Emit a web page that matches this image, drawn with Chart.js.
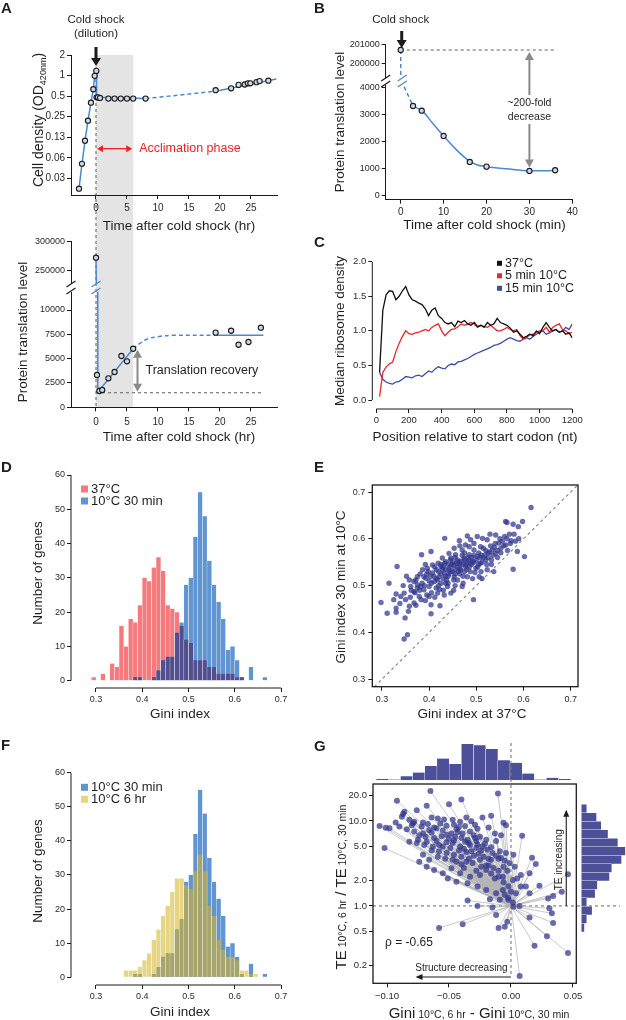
<!DOCTYPE html>
<html>
<head>
<meta charset="utf-8">
<title>Cold shock translation figure</title>
<script src="https://cdn.jsdelivr.net/npm/chart.js@4.4.1/dist/chart.umd.min.js"></script>
<style>
  html, body { margin: 0; padding: 0; background: #fff; }
  #stage { position: relative; width: 626px; height: 1020px; overflow: hidden; background: #fff; }
  #stage canvas { position: absolute; left: 0; top: 0; }
</style>
</head>
<body>
<div id="stage"></div>
<script>
// ---- A: cell density after the shift (hr) ----
const odHr  = [-2.74, -2.26, -1.77, -1.29, -0.81, -0.43, -0.21, 0.05, 0.1, 0.3, 0.65, 2, 3, 4, 5, 6, 8, 19.3, 21.8, 23, 24, 24.5, 24.9, 25.9, 26.4, 27.8];
const odVal = [0.022, 0.051, 0.111, 0.218, 0.40, 0.63, 0.99, 1.17, 0.48, 0.48, 0.47, 0.46, 0.46, 0.46, 0.46, 0.46, 0.46, 0.61, 0.65, 0.73, 0.74, 0.77, 0.77, 0.80, 0.83, 0.84];
const odFitHr  = [-2.74, -2.26, -1.77, -1.29, -0.81, -0.43, -0.21, 0.05, 0.1, 8];
const odFitVal = [0.022, 0.051, 0.111, 0.218, 0.40, 0.63, 0.99, 1.17, 0.48, 0.46];
const odDashHr = [8, 19.3], odDashVal = [0.46, 0.59];
const odTrendHr = [19.3, 29.1], odTrendVal = [0.59, 0.89];
const odTicks  = [0.03125, 0.0625, 0.125, 0.25, 0.5, 1, 2];
const odLabels = ['0.03', '0.06', '0.13', '0.25', '0.5', '1', '2'];
const hrTicks  = [0, 5, 10, 15, 20, 25];

// ---- A: protein translation level (hr) ----
const tlHr  = [0, 0.16, 0.54, 1.0, 2.0, 3.0, 4.1, 5.0, 6.0, 19.3, 21.8, 23.0, 24.6, 26.6];
const tlVal = [272400, 3320, 1675, 1780, 2980, 3630, 5270, 4730, 6020, 7670, 7870, 6430, 6710, 8180];
const tlFitHr  = [0, 0.3, 6];
const tlFitVal = [272400, 1550, 6020];
const tlDashHr  = [6, 7.1, 8.2, 10, 12.5, 19];
const tlDashVal = [6020, 6580, 7000, 7260, 7400, 7400];
const tlPlateauHr = [19, 27], tlPlateauVal = [7400, 7400];
const tlBase = 1500;
const tlTicksHigh = [250000, 300000];
const tlTicksLow  = [0, 2500, 5000, 7500, 10000];

// ---- B: translation in the first minutes ----
const bMin = [0, 2.87, 4.9, 10, 16.1, 20, 30, 36];
const bVal = [200700, 3310, 3137, 2203, 1244, 1070, 911, 937];
const bFitMin = [2.87, 5.2, 7.5, 10, 13, 15.8, 17.7, 20, 24.7, 30, 33.9, 36];
const bFitVal = [3310, 3100, 2660, 2200, 1690, 1300, 1140, 1070, 990, 920, 920, 940];
const bDashMin = [0, 0.7, 2.87];
const bDashVal = [200700, 4050, 3310];
const bTicksHigh = [200000, 201000];
const bTicksLow  = [0, 1000, 2000, 3000, 4000];
const minTicks   = [0, 10, 20, 30, 40];

// ---- C: median ribosome density along the CDS ----
const ntPos = [20, 40, 60, 80, 100, 120, 140, 160, 180, 200, 220, 240, 260, 280, 300, 320, 340, 360, 380, 400,
               420, 440, 460, 480, 500, 520, 540, 560, 580, 600, 620, 640, 660, 680, 700, 720, 740, 760, 780, 800,
               820, 840, 860, 880, 900, 920, 940, 960, 980, 1000, 1020, 1040, 1060, 1080, 1100, 1120, 1140, 1160, 1180, 1200];
const rd37 = [0.40, 1.30, 1.52, 1.58, 1.57, 1.45, 1.50, 1.58, 1.64, 1.52, 1.45, 1.43, 1.40, 1.38, 1.32, 1.22, 1.30, 1.33, 1.22, 1.18,
              1.12, 1.10, 1.12, 1.06, 1.14, 1.12, 1.15, 1.10, 1.08, 1.12, 1.06, 1.08, 1.05, 1.12, 1.08, 1.10, 1.18, 1.12, 1.10, 1.08,
              1.04, 0.98, 1.00, 0.95, 0.90, 0.92, 0.95, 0.93, 1.00, 0.96, 1.05, 1.12, 1.05, 1.00, 1.02, 0.98, 1.00, 0.95, 0.97, 0.90];
const rd5  = [0.05, 0.40, 0.48, 0.52, 0.55, 0.70, 0.82, 0.92, 1.00, 0.96, 0.95, 0.97, 0.98, 1.00, 1.02, 1.00, 1.05, 1.08, 1.10, 1.00,
              0.93, 0.98, 1.02, 1.03, 1.06, 1.10, 1.08, 1.10, 1.12, 1.10, 1.05, 1.08, 1.06, 1.05, 1.08, 1.04, 1.00, 1.00, 1.02, 1.05,
              1.02, 1.00, 1.02, 0.93, 0.88, 0.90, 0.95, 0.95, 0.98, 1.00, 1.00, 1.05, 0.98, 1.05, 1.08, 1.10, 1.02, 1.00, 0.96, 0.98];
const rd15 = [0.40, 0.30, 0.26, 0.24, 0.23, 0.26, 0.27, 0.30, 0.34, 0.33, 0.32, 0.35, 0.36, 0.34, 0.38, 0.42, 0.40, 0.45, 0.48, 0.46,
              0.45, 0.50, 0.52, 0.51, 0.55, 0.56, 0.58, 0.60, 0.63, 0.66, 0.68, 0.70, 0.72, 0.74, 0.76, 0.79, 0.80, 0.82, 0.85, 0.88,
              0.90, 0.88, 0.86, 0.85, 0.88, 0.90, 0.88, 0.92, 0.95, 0.98, 1.00, 0.95, 0.97, 1.00, 1.02, 0.98, 1.00, 1.05, 1.02, 1.10];
const ntTicks = [0, 200, 400, 600, 800, 1000, 1200];
const rdTicks = [0, 0.5, 1, 1.5, 2];

// ---- D / F: Gini index histograms (bin centres, counts) ----
const giniBin = [0.295, 0.305, 0.315, 0.325, 0.335, 0.345, 0.355, 0.365, 0.375, 0.385, 0.395, 0.405, 0.415, 0.425, 0.435, 0.445, 0.455, 0.465, 0.475,
                 0.485, 0.495, 0.505, 0.515, 0.525, 0.535, 0.545, 0.555, 0.565, 0.575, 0.585, 0.595, 0.605, 0.615, 0.625, 0.635, 0.645, 0.655, 0.665];
const gini37  = [1, 0, 2, 0, 5, 4, 16, 10, 18, 17, 22, 30, 29, 33, 36, 32, 22, 21, 20, 16, 12, 11, 6, 6, 6, 4, 4, 2, 2, 2, 2, 1, 1, 0, 0, 0, 0, 0];
const gini30m = [0, 0, 0, 0, 0, 0, 0, 0, 0, 1, 1, 0, 0, 1, 3, 6, 7, 7, 14, 17, 28, 30, 42, 55, 48, 35, 28, 23, 18, 9, 10, 6, 1, 0, 4, 0, 0, 1];
const gini6h  = [0, 0, 0, 0, 0, 0, 0, 2, 2, 2, 3, 5, 7, 11, 14, 18, 21, 25, 29, 29, 27, 26, 31, 36, 31, 21, 18, 11, 8, 6, 6, 5, 2, 2, 1, 1, 0, 0];
const giniTicks = [0.3, 0.4, 0.5, 0.6, 0.7];
const countTicks = [0, 10, 20, 30, 40, 50, 60];

// ---- E: Gini at 37°C vs 30 min at 10°C ----
const eGini = [[0.616,0.667],[0.298,0.464],[0.311,0.441],[0.315,0.505],[0.332,0.541],[0.330,0.452],[0.330,0.443],[0.349,0.431],[0.347,0.386],[0.354,0.395],
  [0.330,0.482],[0.340,0.477],[0.384,0.566],[0.404,0.573],[0.433,0.601],[0.404,0.440],[0.423,0.457],[0.464,0.596],[0.481,0.606],[0.494,0.470],
  [0.537,0.530],[0.562,0.637],[0.565,0.635],[0.578,0.631],[0.589,0.626],[0.598,0.637],[0.574,0.596],[0.578,0.535],[0.587,0.573],[0.602,0.562],
  [0.529,0.610],[0.541,0.608],[0.513,0.601],[0.523,0.598],[0.548,0.591],[0.552,0.580],[0.562,0.587],[0.534,0.576],[0.541,0.569],[0.509,0.548],
  [0.520,0.555],[0.502,0.562],[0.495,0.576],[0.485,0.583],[0.453,0.580],[0.442,0.569],[0.428,0.559],[0.419,0.548],[0.407,0.544],[0.396,0.537],
  [0.386,0.534],[0.375,0.519],[0.368,0.509],[0.361,0.498],[0.368,0.487],[0.379,0.477],[0.389,0.491],[0.400,0.498],[0.411,0.509],[0.421,0.519],
  [0.432,0.527],[0.442,0.534],[0.453,0.544],[0.463,0.551],[0.474,0.559],[0.485,0.566],[0.467,0.534],[0.477,0.541],[0.488,0.548],[0.499,0.537],
  [0.481,0.519],[0.460,0.512],[0.439,0.498],[0.418,0.484],[0.400,0.477],[0.383,0.470],[0.404,0.459],[0.446,0.484],[0.470,0.498],[0.506,0.519],
  [0.523,0.534],[0.368,0.463],[0.358,0.456],[0.347,0.484],[0.358,0.512],[0.375,0.502],[0.393,0.516],[0.407,0.527],[0.425,0.541],[0.435,0.551],
  [0.446,0.559],[0.456,0.566],[0.470,0.576],[0.509,0.583],[0.488,0.598],[0.502,0.605],[0.477,0.587],[0.425,0.505],[0.453,0.519],[0.415,0.534],
  [0.389,0.519],[0.382,0.498],[0.430,0.540],[0.440,0.545],[0.450,0.530],[0.460,0.555],[0.470,0.545],[0.480,0.550],[0.490,0.560],[0.410,0.520],
  [0.420,0.530],[0.430,0.515],[0.440,0.520],[0.450,0.550],[0.460,0.540],[0.470,0.565],[0.480,0.535],[0.490,0.545],[0.500,0.555],[0.510,0.565],
  [0.520,0.575],[0.530,0.585],[0.540,0.590],[0.550,0.600],[0.560,0.605],[0.570,0.610],[0.510,0.530],[0.400,0.510],[0.390,0.500],[0.380,0.490],
  [0.370,0.485],[0.360,0.475],[0.350,0.470],[0.420,0.500],[0.430,0.490],[0.440,0.505],[0.455,0.500],[0.465,0.525],[0.475,0.530],[0.485,0.540],
  [0.495,0.550],[0.505,0.570],[0.515,0.580],[0.525,0.560],[0.535,0.565],[0.545,0.575],[0.555,0.595],[0.565,0.600],[0.580,0.610],[0.590,0.600],
  [0.405,0.505],[0.415,0.515],[0.425,0.525],[0.435,0.535],[0.445,0.540],[0.455,0.535],[0.465,0.545],[0.475,0.555],[0.485,0.555],[0.495,0.565],
  [0.505,0.545],[0.515,0.560],[0.525,0.570],[0.435,0.520],[0.445,0.530],[0.455,0.525],[0.465,0.535],[0.395,0.525],[0.385,0.505],[0.375,0.495],
  [0.415,0.495],[0.405,0.485],[0.395,0.480],[0.435,0.505],[0.425,0.545],[0.445,0.555],[0.455,0.560],[0.475,0.570],[0.465,0.585],[0.495,0.590],
  [0.362,0.490],[0.372,0.512],[0.381,0.525],[0.392,0.545],[0.398,0.530],[0.403,0.520],[0.412,0.540],[0.418,0.512],[0.422,0.492],[0.428,0.535],
  [0.433,0.548],[0.437,0.512],[0.442,0.525],[0.448,0.545],[0.452,0.512],[0.458,0.548],[0.462,0.530],[0.468,0.552],[0.472,0.520],[0.478,0.545],
  [0.482,0.560],[0.487,0.530],[0.492,0.552],[0.497,0.528],[0.503,0.540],[0.508,0.560],[0.512,0.550],[0.518,0.565],[0.522,0.545],[0.528,0.572],
  [0.532,0.555],[0.538,0.582],[0.545,0.560],[0.552,0.570],[0.558,0.585],[0.566,0.575],[0.572,0.590],[0.583,0.595],[0.345,0.500],[0.352,0.520],
  [0.338,0.462],[0.325,0.470],[0.356,0.445],[0.372,0.458],[0.392,0.468],[0.412,0.475],[0.432,0.480],[0.452,0.490],[0.472,0.505],[0.492,0.515],
  [0.512,0.515],[0.532,0.545]];
const eTicks = [0.3, 0.4, 0.5, 0.6, 0.7];

// ---- G: change in Gini vs change in TE ----
const gPairs = [[-0.065,22.5],[-0.092,17.3],[-0.0105,21.0],[-0.040,17.9],[-0.050,15.7],[-0.068,15.1],[-0.076,13.4],[-0.086,12.8],[-0.087,12.1],[-0.106,8.7],
  [-0.101,8.3],[-0.102,4.8],[-0.016,11.5],[-0.006,9.5],[-0.004,8.9],[0.009,6.7],[-0.074,3.3],[-0.051,2.1],[-0.058,0.55],[-0.039,0.61],
  [0.017,3.7],[0.023,1.73],[0.041,1.47],[0.046,2.36],[0.046,0.28],[0.029,0.44],[0.019,0.34],[0.007,0.15],[0.031,0.94],[0.033,0.82],
  [0.034,0.63],[0.015,0.73],[0.007,1.0],[-0.010,0.55],[-0.005,0.57],[-0.012,0.78],[-0.035,1.16],[-0.027,1.0],[-0.015,0.96],[-0.003,0.65],
  [0.002,0.98],[0.030,1.22],[0.034,1.31],[0.015,1.41],[0.012,1.69],[0.015,2.42],[0.020,3.12],[0.008,1.69],[0.005,2.11],[-0.002,1.18],
  [-0.009,1.18],[-0.017,1.2],
  [-0.088,11.2],[-0.082,10.3],[-0.079,9.4],[-0.071,9.6],[-0.064,11.0],[-0.059,10.7],[-0.054,10.4],[-0.047,10.3],[-0.041,9.8],[-0.036,11.0],[-0.029,9.0],[-0.023,11.0],
  [-0.098,8.2],[-0.090,8.6],[-0.084,8.0],[-0.078,7.5],[-0.071,7.1],[-0.066,7.8],[-0.060,8.2],[-0.055,7.7],[-0.048,7.1],[-0.044,8.0],[-0.039,7.1],[-0.033,7.5],
  [-0.025,6.5],[-0.020,6.0],[-0.013,7.1],[-0.008,6.8],
  [-0.082,5.7],[-0.076,5.5],[-0.068,5.7],[-0.063,5.0],[-0.058,5.2],[-0.052,5.6],[-0.047,5.5],[-0.041,5.0],[-0.037,5.7],[-0.033,5.2],[-0.028,4.8],[-0.023,5.0],
  [-0.019,4.6],[-0.015,4.2],[-0.009,4.4],[-0.004,4.2],[0.002,4.0],
  [-0.071,4.0],[-0.066,3.5],[-0.059,3.8],[-0.053,3.6],[-0.047,3.5],[-0.040,3.8],[-0.036,3.3],[-0.031,3.2],[-0.025,3.5],[-0.020,3.0],[-0.016,3.5],[-0.010,3.6],
  [-0.001,3.2],[0.003,2.9],
  [-0.068,2.9],[-0.062,2.65],[-0.055,2.42],[-0.048,2.77],[-0.041,2.42],[-0.033,2.21],[-0.025,2.31],[-0.020,2.65],[-0.013,2.11],[-0.0065,2.21],[0.0016,2.02],[0.008,2.31],
  [-0.044,1.93],[-0.035,1.85],[-0.027,1.69],[-0.020,1.54],[-0.012,1.41],[-0.0065,1.54],[0.0,1.47],[0.004,1.41],
  [-0.0024,1.25],[-0.005,1.35],[0.0016,1.1],
  [-0.050,6.2],[-0.045,6.5],[-0.035,6.0],[-0.030,6.8],[-0.028,5.8],[-0.042,4.5],[-0.036,4.3],[-0.026,4.1],[-0.030,3.9],[-0.022,3.8],[-0.018,3.0],
  [-0.014,2.8],[-0.010,2.6],[-0.006,2.9],[-0.040,3.1],[-0.058,4.4],[-0.062,6.3],[-0.056,6.6],[-0.070,5.2],[-0.074,6.8],[-0.080,8.9],[-0.093,9.6],
  [-0.075,6.0],[-0.069,6.5],[-0.064,7.3],[-0.060,5.8],[-0.055,5.0],[-0.052,6.9],[-0.049,4.8],[-0.046,5.9],[-0.043,7.4],[-0.040,6.3],[-0.038,4.7],
  [-0.034,5.5],[-0.032,4.4],[-0.029,6.3],[-0.027,5.3],[-0.024,4.5],[-0.021,5.4],[-0.018,3.6],[-0.016,4.9],[-0.012,3.9],[-0.008,3.7],[-0.005,3.4],
  [-0.003,2.6],[-0.044,3.3],[-0.038,2.8],[-0.034,3.6],[-0.028,2.6],[-0.024,2.9],[-0.016,2.4],[-0.010,2.2],[-0.006,1.9],[-0.002,1.7],[-0.052,4.2],
  [-0.046,4.0],[-0.064,4.5],[-0.078,9.8],[-0.072,8.6],[-0.067,9.2],[-0.062,8.4],[-0.057,9.3],[-0.052,8.8],[-0.046,9.0],[-0.042,8.5],[-0.037,8.7],
  [-0.032,9.9],[-0.027,8.1],[-0.018,8.4],[-0.012,5.8]];
const gTopBin   = [-0.1038, -0.0940, -0.0842, -0.0744, -0.0646, -0.0548, -0.0449, -0.0351, -0.0253, -0.0155, -0.0057, 0.0041, 0.0139, 0.0237, 0.0335, 0.0433];
const gTopCount = [2, 1, 7, 14, 26, 40, 30, 67, 65, 58, 37, 32, 12, 1, 4, 2];
const gSideBin   = [1.145, 1.045, 0.945, 0.845, 0.745, 0.645, 0.545, 0.445, 0.345, 0.245, 0.145, 0.045, -0.055, -0.155, -0.255]; // log10 TE ratio
const gSideCount = [7, 20, 26, 35, 48, 58, 53, 40, 37, 21, 18, 7, 14, 7, 4];
const gXMin = -0.1113, gXMax = 0.0527, gTeMin = 0.123, gTeMax = 27.2;
const gXTicks = [-0.1, -0.05, 0, 0.05];
const gXLabels = ['\u22120.10', '\u22120.05', '0.00', '0.05'];
const gTeTicks = [0.2, 0.5, 1, 2, 5, 10, 20];
const gTeLabels = ['0.2', '0.5', '1.0', '2.0', '5.0', '10.0', '20.0'];

// ---- styling ----
const FONT = "'Liberation Sans', Arial, Helvetica, sans-serif";
const INK = '#1a1a1a', BLUE = '#4a89cf', SHADE = '#e4e4e4', RED = '#ec2227', GREY = '#8a8a8a';
const C37 = '#111111', C5 = '#e8262b', C15 = '#3a4fa0';
const H_RED = '#f47a7e', H_BLUE = '#5f95d0', H_PURPLE = '#524f8f', H_YELLOW = '#e5d585', H_OLIVE = '#a6a56b';
const DOT = 'rgba(48, 52, 140, 0.72)', G_BAR = '#4c5098', SPOKE = 'rgba(180, 180, 180, 0.9)';
const RESERVE_Y = 50, RESERVE_X = 26;   // room kept for tick labels

Chart.defaults.font.family = FONT;
Chart.defaults.color = '#2a2a2a';
Chart.defaults.animation = false;
Chart.defaults.responsive = false;
Chart.defaults.devicePixelRatio = 1;
Chart.defaults.events = [];
Chart.defaults.plugins.legend.display = false;
Chart.defaults.plugins.tooltip.enabled = false;

const W = 626, H = 1020;
const stage = document.getElementById('stage');
const charts = {};

const pts = (xs, ys) => xs.map((x, i) => ({ x, y: ys[i] }));
const pairs = list => list.map(p => ({ x: p[0], y: p[1] }));

function axis(o) {
  return {
    type: o.type || 'linear', display: !o.hide, position: o.pos || 'bottom',
    min: o.min, max: o.max, offset: false,
    afterFit: s => {
      if (s.isHorizontal()) s.height = o.hide ? 0 : RESERVE_X;
      else s.width = o.hide ? 0 : RESERVE_Y;
    },
    afterBuildTicks: s => { s.ticks = (o.ticks || [o.min, o.max]).map(v => ({ value: v })); },
    grid: { display: !!o.ticks && !o.hide, drawOnChartArea: false, offset: false, tickLength: o.tl || 4, tickWidth: 1, tickColor: INK },
    border: { display: !!o.border, color: INK, width: 1 },
    ticks: { display: !!o.labels, autoSkip: false, maxRotation: 0, padding: o.pad ?? 2, color: '#2a2a2a',
             font: { size: o.fs || 9.5 }, callback: (v, i) => (o.labels ? o.labels[i] : '') }
  };
}

const dots = data => ({ data, showLine: false, pointRadius: 2.6, pointBackgroundColor: '#cfd9e6',
  pointBorderColor: INK, pointBorderWidth: 1.1, order: 0 });
const curve = (data, color, o = {}) => ({ data, showLine: true, pointRadius: 0, borderColor: color,
  borderWidth: o.w || 1.5, borderDash: o.dash || [], tension: o.t || 0,
  cubicInterpolationMode: o.mono ? 'monotone' : 'default', spanGaps: false, order: o.order || 1 });
const bars = (data, color, order, horiz) => ({ data, backgroundColor: color, borderColor: '#fff',
  borderWidth: horiz ? { top: 0.5, bottom: 0.5, left: 0, right: 0 } : { left: 0.45, right: 0.45, top: 0, bottom: 0 },
  borderSkipped: false, barPercentage: 1, categoryPercentage: 1, grouped: false, order });

function make(id, area, cfg, under, over) {
  const cv = document.createElement('canvas');
  cv.width = W; cv.height = H;
  stage.appendChild(cv);
  cfg.options = cfg.options || {};
  let padL = area[0], padB = H - area[3];
  Object.values(cfg.options.scales || {}).forEach(s => {
    if (!s.display) return;
    if (s.position === 'left') padL -= RESERVE_Y;
    if (s.position === 'bottom') padB -= RESERVE_X;
  });
  cfg.options.layout = { padding: { left: padL, top: area[1], right: W - area[2], bottom: padB } };
  const XY = c => [v => c.scales.x.getPixelForValue(v), v => c.scales.y.getPixelForValue(v)];
  cfg.plugins = [{
    id: id + 'Deco',
    beforeDraw: c => { if (under) under(c, c.ctx, ...XY(c)); },
    afterDraw: c => { if (over) over(c, c.ctx, ...XY(c)); }
  }];
  charts[id] = new Chart(cv, cfg);
  return charts[id];
}

// ---- drawing helpers ----
function text(ctx, s, x, y, size, o = {}) {
  ctx.save();
  ctx.font = (o.bold ? 'bold ' : '') + size + 'px ' + FONT;
  ctx.fillStyle = o.color || '#1f1f1f';
  ctx.textAlign = o.align || 'center';
  ctx.textBaseline = o.base || 'middle';
  ctx.translate(x, y);
  if (o.rot) ctx.rotate(o.rot);
  ctx.fillText(s, 0, 0);
  ctx.restore();
}
function rich(ctx, parts, x, y, rot) {
  ctx.save();
  ctx.translate(x, y);
  if (rot) ctx.rotate(rot);
  ctx.fillStyle = '#1f1f1f'; ctx.textAlign = 'left'; ctx.textBaseline = 'alphabetic';
  let w = 0;
  parts.forEach(p => { ctx.font = p[1] + 'px ' + FONT; w += ctx.measureText(p[0]).width; });
  let cx = -w / 2;
  parts.forEach(p => { ctx.font = p[1] + 'px ' + FONT; ctx.fillText(p[0], cx, 5 + (p[2] || 0)); cx += ctx.measureText(p[0]).width; });
  ctx.restore();
}
function line(ctx, p, color, width, dash) {
  ctx.save();
  ctx.strokeStyle = color; ctx.lineWidth = width; ctx.setLineDash(dash || []);
  ctx.beginPath();
  p.forEach((q, i) => (i ? ctx.lineTo(q[0], q[1]) : ctx.moveTo(q[0], q[1])));
  ctx.stroke();
  ctx.restore();
}
function head(ctx, x, y, dir, len, half, color) {
  ctx.save();
  ctx.fillStyle = color; ctx.translate(x, y); ctx.rotate(dir);
  ctx.beginPath(); ctx.moveTo(0, 0); ctx.lineTo(-len, -half); ctx.lineTo(-len, half); ctx.closePath(); ctx.fill();
  ctx.restore();
}
const brk = (ctx, x, y, color) => line(ctx, [[x - 4.5, y + 3], [x + 4.5, y - 3]], color, 1.2);
function legend(ctx, items, x, y0, dy, size, sq) {
  items.forEach((it, i) => {
    const y = y0 + i * dy;
    ctx.fillStyle = it[1];
    ctx.fillRect(x, y - sq / 2, sq, sq);
    text(ctx, it[0], x + sq + 3, y, size, { align: 'left' });
  });
}
const UP = -Math.PI / 2, DOWN = Math.PI / 2;

// ===== A (top): cell density =====
make('a1', [71, 55, 277, 195], {
  type: 'scatter',
  data: { datasets: [
    dots(pts(odHr, odVal)),
    curve(pts(odFitHr, odFitVal), BLUE),
    curve(pts(odDashHr, odDashVal), BLUE, { dash: [4, 3] }),
    curve(pts(odTrendHr, odTrendVal), BLUE)
  ] },
  options: { scales: {
    x: axis({ min: -4.03, max: 29.2, ticks: hrTicks, labels: hrTicks.map(String), pos: 'bottom', fs: 10, pad: 3, border: true }),
    y: axis({ type: 'logarithmic', min: 0.0178, max: 2, ticks: odTicks, labels: odLabels, pos: 'left', fs: 10, border: true })
  } }
}, (c, ctx, X) => {
  const bottom = charts.a2l ? charts.a2l.chartArea.bottom : c.chartArea.bottom;
  ctx.fillStyle = SHADE;
  ctx.fillRect(X(0), c.chartArea.top, X(6) - X(0), bottom - c.chartArea.top);
  line(ctx, [[X(0), c.chartArea.top], [X(0), bottom]], '#777', 1.2, [3, 3]);
}, (c, ctx, X, Y) => {
  text(ctx, 'A', 1, 9, 15, { bold: true, align: 'left' });
  text(ctx, 'Cold shock', X(0), 20, 11.5);
  text(ctx, '(dilution)', X(0), 34, 11.5);
  line(ctx, [[X(0), 47], [X(0), 59]], INK, 3);
  head(ctx, X(0), 66, DOWN, 8, 5, INK);
  const ya = Y(0.085);
  line(ctx, [[X(0) + 3, ya], [X(6) - 3, ya]], RED, 1.3);
  head(ctx, X(0) + 1, ya, Math.PI, 6, 3.5, RED);
  head(ctx, X(6) - 1, ya, 0, 6, 3.5, RED);
  text(ctx, 'Acclimation phase', X(6) + 6, ya, 12.5, { align: 'left', color: RED });
  rich(ctx, [['Cell density (OD', 14], ['420nm', 9, 3], [')', 14]], 38, 120, UP);
  text(ctx, 'Time after cold shock (hr)', 179, 226, 13.5);
});

// ===== A (bottom): translation, broken axis =====
make('a2u', [71, 241.7, 277, 283], {
  type: 'scatter',
  data: { datasets: [dots(pts(tlHr, tlVal)), curve(pts(tlFitHr, tlFitVal), BLUE)] },
  options: { scales: {
    x: axis({ min: -4.03, max: 29.2, hide: true }),
    y: axis({ min: 228800, max: 300000, ticks: tlTicksHigh, labels: tlTicksHigh.map(String), pos: 'left', fs: 9, border: true })
  } }
}, null, (c, ctx, X) => {
  brk(ctx, c.chartArea.left, c.chartArea.bottom + 1, INK);
  brk(ctx, X(0), c.chartArea.bottom + 1, BLUE);
});

make('a2l', [71, 292, 277, 407.3], {
  type: 'scatter',
  data: { datasets: [
    dots(pts(tlHr, tlVal)),
    curve(pts(tlFitHr, tlFitVal), BLUE),
    curve(pts(tlDashHr, tlDashVal), BLUE, { dash: [4, 3], t: 0.4 }),
    curve(pts(tlPlateauHr, tlPlateauVal), BLUE)
  ] },
  options: { scales: {
    x: axis({ min: -4.03, max: 29.2, ticks: hrTicks, labels: hrTicks.map(String), pos: 'bottom', fs: 10, pad: 5, border: true }),
    y: axis({ min: 0, max: 11850, ticks: tlTicksLow, labels: tlTicksLow.map(String), pos: 'left', fs: 9, border: true })
  } }
}, (c, ctx, X, Y) => {
  line(ctx, [[X(0), Y(tlBase)], [X(27), Y(tlBase)]], '#777', 1.2, [3, 3]);
}, (c, ctx, X, Y) => {
  brk(ctx, c.chartArea.left, c.chartArea.top - 1, INK);
  brk(ctx, X(0), c.chartArea.top - 1, BLUE);
  const xa = X(6.7), y1 = Y(6020) + 1, y2 = Y(tlBase) - 1;
  line(ctx, [[xa, y1 + 6], [xa, y2 - 6]], GREY, 2);
  head(ctx, xa, y1, UP, 8, 4.5, GREY);
  head(ctx, xa, y2, DOWN, 8, 4.5, GREY);
  text(ctx, 'Translation recovery', xa + 8, (y1 + y2) / 2, 12.5, { align: 'left' });
  text(ctx, 'Protein translation level', 23, 332, 13.5, { rot: UP });
  text(ctx, 'Time after cold shock (hr)', 179, 437, 13.5);
});

// ===== B: broken axis =====
make('bu', [385.7, 44.3, 572.3, 77], {
  type: 'scatter',
  data: { datasets: [dots(pts(bMin, bVal)), curve(pts(bDashMin, bDashVal), BLUE, { dash: [4, 3] })] },
  options: { scales: {
    x: axis({ min: -3.5, max: 40, hide: true }),
    y: axis({ min: 199280, max: 201000, ticks: bTicksHigh, labels: bTicksHigh.map(String), pos: 'left', fs: 9, border: true })
  } }
}, (c, ctx, X, Y) => {
  line(ctx, [[X(0), Y(bVal[0])], [X(36), Y(bVal[0])]], '#777', 1.2, [3, 3]);
}, (c, ctx, X) => {
  text(ctx, 'B', 314, 9, 15, { bold: true, align: 'left' });
  text(ctx, 'Cold shock', X(0), 20, 11.5);
  line(ctx, [[X(0) + 1, 31], [X(0) + 1, 41]], INK, 3);
  head(ctx, X(0) + 1, 48, DOWN, 8, 5, INK);
  brk(ctx, c.chartArea.left, c.chartArea.bottom + 1, INK);
  brk(ctx, X(0.35), c.chartArea.bottom + 1, BLUE);
  text(ctx, 'Protein translation level', 340, 122, 13.5, { rot: UP });
});

make('bl', [385.7, 85, 572.3, 199.7], {
  type: 'scatter',
  data: { datasets: [
    dots(pts(bMin, bVal)),
    curve(pts(bFitMin, bFitVal), BLUE, { mono: true }),
    curve(pts(bDashMin, bDashVal), BLUE, { dash: [4, 3] })
  ] },
  options: { scales: {
    x: axis({ min: -3.5, max: 40, ticks: minTicks, labels: minTicks.map(String), pos: 'bottom', fs: 10, pad: 3, border: true }),
    y: axis({ min: -150, max: 4085, ticks: bTicksLow, labels: bTicksLow.map(String), pos: 'left', fs: 9, border: true })
  } }
}, null, (c, ctx, X, Y) => {
  brk(ctx, c.chartArea.left, c.chartArea.top - 1, INK);
  brk(ctx, X(0.35), c.chartArea.top - 1, BLUE);
  const xa = X(30), y1 = charts.bu.scales.y.getPixelForValue(bVal[0]) + 2, y2 = Y(bVal[6]) - 3.5;
  line(ctx, [[xa, y1 + 6], [xa, y2 - 6]], GREY, 2);
  head(ctx, xa, y1, UP, 8, 4.5, GREY);
  head(ctx, xa, y2, DOWN, 8, 4.5, GREY);
  ctx.fillStyle = '#fff';
  ctx.fillRect(xa - 28, 95, 56, 29);
  text(ctx, '~200-fold', xa, 103, 10.5);
  text(ctx, 'decrease', xa, 117, 10.5);
  text(ctx, 'Time after cold shock (min)', 484.5, 225, 13.5);
});

// ===== C: ribosome density profiles =====
make('c', [372.3, 261.7, 572.3, 409], {
  type: 'scatter',
  data: { datasets: [
    curve(pts(ntPos, rd37), C37, { w: 1.3, order: 1 }),
    curve(pts(ntPos, rd5), C5, { w: 1.3, order: 2 }),
    curve(pts(ntPos, rd15), C15, { w: 1.3, order: 3 })
  ] },
  options: { scales: {
    x: axis({ min: -24.5, max: 1200, ticks: ntTicks, labels: ntTicks.map(String), pos: 'bottom', fs: 9.5, pad: 2 }),
    y: axis({ min: -0.13, max: 2, ticks: rdTicks, labels: rdTicks.map(v => v.toFixed(1)), pos: 'left', fs: 9.5 })
  } }
}, null, (c, ctx, X, Y) => {
  line(ctx, [[c.chartArea.left, Y(0)], [c.chartArea.left, Y(2)]], INK, 1);
  line(ctx, [[X(0), c.chartArea.bottom], [X(1200), c.chartArea.bottom]], INK, 1);
  legend(ctx, [['37°C', C37], ['5 min 10°C', C5], ['15 min 10°C', C15]], 497, 263.3, 12.5, 12.5, 5);
  text(ctx, 'C', 314, 243, 15, { bold: true, align: 'left' });
  text(ctx, 'Median ribosome density', 340, 331, 13.5, { rot: UP });
  text(ctx, 'Position relative to start codon (nt)', 475, 437, 13.5);
});

// ===== D: Gini histograms 37°C vs 10°C 30 min =====
const over37 = gini37.map((v, i) => Math.min(v, gini30m[i]));
make('d', [71, 475, 282, 688], {
  type: 'bar',
  data: { datasets: [
    bars(pts(giniBin, over37), H_PURPLE, 0),
    bars(pts(giniBin, gini30m), H_BLUE, 1),
    bars(pts(giniBin, gini37), H_RED, 2)
  ] },
  options: { scales: {
    x: axis({ min: 0.246, max: 0.702, ticks: giniTicks, labels: giniTicks.map(v => v.toFixed(1)), pos: 'bottom', fs: 9, pad: 2 }),
    y: axis({ min: -2.13, max: 60, ticks: countTicks, labels: countTicks.map(String), pos: 'left', fs: 9 })
  } }
}, null, (c, ctx, X, Y) => {
  line(ctx, [[c.chartArea.left, Y(0)], [c.chartArea.left, Y(60)]], INK, 1);
  line(ctx, [[X(0.3), c.chartArea.bottom], [X(0.7), c.chartArea.bottom]], INK, 1);
  legend(ctx, [['37°C', H_RED], ['10°C 30 min', H_BLUE]], 81, 489, 12, 13, 7);
  text(ctx, 'D', 1, 468, 15, { bold: true, align: 'left' });
  text(ctx, 'Number of genes', 38, 573, 13.5, { rot: UP });
  text(ctx, 'Gini index', 180, 714, 13.5);
});

// ===== E: Gini scatter =====
make('e', [372.3, 485, 578, 686.7], {
  type: 'scatter',
  data: { datasets: [{ data: pairs(eGini), showLine: false, pointRadius: 2.7, pointBackgroundColor: DOT, pointBorderWidth: 0 }] },
  options: { scales: {
    x: axis({ min: 0.2795, max: 0.7155, ticks: eTicks, labels: eTicks.map(v => v.toFixed(1)), pos: 'bottom', fs: 9, pad: 3 }),
    y: axis({ min: 0.284, max: 0.715, ticks: eTicks, labels: eTicks.map(v => v.toFixed(1)), pos: 'left', fs: 9, pad: 3 })
  } }
}, (c, ctx, X, Y) => {
  const lo = Math.max(c.scales.x.min, c.scales.y.min), hi = Math.min(c.scales.x.max, c.scales.y.max);
  line(ctx, [[X(lo), Y(lo)], [X(hi), Y(hi)]], '#8a8a8a', 1.2, [3, 3]);
}, (c, ctx) => {
  const a = c.chartArea;
  ctx.save(); ctx.strokeStyle = INK; ctx.lineWidth = 1.3;
  ctx.strokeRect(a.left, a.top, a.right - a.left, a.bottom - a.top); ctx.restore();
  text(ctx, 'E', 314, 468, 15, { bold: true, align: 'left' });
  text(ctx, 'Gini index 30 min at 10°C', 341, 587, 13.5, { rot: UP });
  text(ctx, 'Gini index at 37°C', 472, 714, 13.5);
});

// ===== F: Gini histograms 10°C 30 min vs 6 hr =====
const over6h = gini6h.map((v, i) => Math.min(v, gini30m[i]));
make('f', [71, 772.7, 282, 985], {
  type: 'bar',
  data: { datasets: [
    bars(pts(giniBin, over6h), H_OLIVE, 0),
    bars(pts(giniBin, gini30m), H_BLUE, 1),
    bars(pts(giniBin, gini6h), H_YELLOW, 2)
  ] },
  options: { scales: {
    x: axis({ min: 0.246, max: 0.702, ticks: giniTicks, labels: giniTicks.map(v => v.toFixed(1)), pos: 'bottom', fs: 9, pad: 2 }),
    y: axis({ min: -2.26, max: 60, ticks: countTicks, labels: countTicks.map(String), pos: 'left', fs: 9 })
  } }
}, null, (c, ctx, X, Y) => {
  line(ctx, [[c.chartArea.left, Y(0)], [c.chartArea.left, Y(60)]], INK, 1);
  line(ctx, [[X(0.3), c.chartArea.bottom], [X(0.7), c.chartArea.bottom]], INK, 1);
  legend(ctx, [['10°C 30 min', H_BLUE], ['10°C 6 hr', H_YELLOW]], 81, 787.3, 12, 13, 7);
  text(ctx, 'F', 1, 746, 15, { bold: true, align: 'left' });
  text(ctx, 'Number of genes', 38, 871, 13.5, { rot: UP });
  text(ctx, 'Gini index', 180, 1012, 13.5);
});

// ===== G: marginal histograms + spoke scatter =====
make('gt', [373, 743, 576.3, 780], {
  type: 'bar',
  data: { datasets: [bars(pts(gTopBin, gTopCount), G_BAR, 0)] },
  options: { scales: {
    x: axis({ min: gXMin, max: gXMax, hide: true, ticks: gXTicks }),
    y: axis({ min: 0, max: 69, hide: true, ticks: [0, 69] })
  } }
});

make('gr', [581.3, 784, 626, 983.3], {
  type: 'bar',
  data: { datasets: [bars(pts(gSideCount, gSideBin), G_BAR, 0, true)] },
  options: { indexAxis: 'y', scales: {
    x: axis({ min: 0, max: 59, hide: true, ticks: [0, 59] }),
    y: axis({ min: Math.log10(gTeMin), max: Math.log10(gTeMax), hide: true, ticks: [0, 1] })
  } }
});

const spokes = gPairs.flatMap(p => [{ x: 0, y: 1 }, { x: p[0], y: p[1] }, { x: 0, y: null }]);
make('g', [373, 784, 576.3, 983.3], {
  type: 'scatter',
  data: { datasets: [
    { data: pairs(gPairs), showLine: false, pointRadius: 3, pointBackgroundColor: DOT, pointBorderWidth: 0, order: 0 },
    { data: spokes, showLine: true, spanGaps: false, pointRadius: 0, borderColor: SPOKE, borderWidth: 0.8, order: 1 }
  ] },
  options: { scales: {
    x: axis({ min: gXMin, max: gXMax, ticks: gXTicks, labels: gXLabels, pos: 'bottom', fs: 9.5, pad: 3 }),
    y: axis({ type: 'logarithmic', min: gTeMin, max: gTeMax, ticks: gTeTicks, labels: gTeLabels, pos: 'left', fs: 9.5, pad: 2 })
  } }
}, (c, ctx, X, Y) => {
  const top = charts.gt.chartArea.top, right = charts.gr.chartArea.right - 6;
  line(ctx, [[X(0), top], [X(0), Y(0.146)]], '#777', 1.1, [3, 3]);
  line(ctx, [[c.chartArea.left, Y(1)], [right, Y(1)]], '#777', 1.1, [3, 3]);
}, (c, ctx, X, Y) => {
  const a = c.chartArea;
  ctx.save(); ctx.strokeStyle = INK; ctx.lineWidth = 1.3;
  ctx.strokeRect(a.left, a.top, a.right - a.left, a.bottom - a.top); ctx.restore();
  const ya = Y(0.146);
  line(ctx, [[X(0), ya], [X(-0.077) + 6, ya]], INK, 1.1);
  head(ctx, X(-0.077), ya, Math.PI, 7, 3, INK);
  text(ctx, 'Structure decreasing', X(-0.040), ya - 8.5, 10);
  const xa = X(0.0446);
  line(ctx, [[xa, Y(1)], [xa, Y(13.5) + 6]], INK, 1.1);
  head(ctx, xa, Y(13.5), UP, 7, 3, INK);
  text(ctx, 'TE increasing', xa - 7.5, Y(3.5), 10, { rot: UP });
  text(ctx, '\u03c1 = -0.65', X(-0.1016), Y(0.367), 12, { align: 'left' });
  text(ctx, 'G', 314, 747, 15, { bold: true, align: 'left' });
  rich(ctx, [['TE', 15], [' 10°C, 6 hr', 10.5], [' / TE', 15], [' 10°C, 30 min', 10.5]], 341, 887, UP);
  rich(ctx, [['Gini', 15], [' 10°C, 6 hr', 10.5], [' - Gini', 15], [' 10°C, 30 min', 10.5]], 479, 1013);
});

// the shaded acclimation band in A spans both A panels; redraw once they all exist
charts.a1.draw();
</script>
</body>
</html>
